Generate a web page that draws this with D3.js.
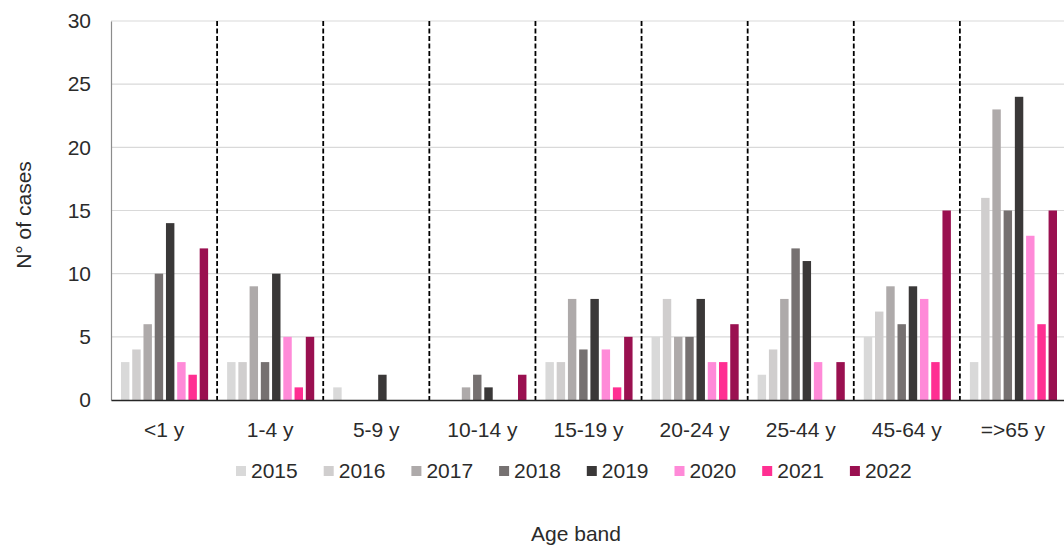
<!DOCTYPE html>
<html>
<head>
<meta charset="utf-8">
<script src="https://cdn.jsdelivr.net/npm/d3@7"></script>
<style>
  body { margin: 0; background: #fff; }
  svg { display: block; font-family: "Liberation Sans", Arial, sans-serif; }
</style>
</head>
<body>
<svg id="chart" width="1064" height="552"></svg>
<script>
const categories = ["<1 y", "1-4 y", "5-9 y", "10-14 y", "15-19 y", "20-24 y", "25-44 y", "45-64 y", "=>65 y"];
const years = ["2015", "2016", "2017", "2018", "2019", "2020", "2021", "2022"];
const s2015 = [3, 3, 1, 0, 3, 5, 2, 5, 3];
const s2016 = [4, 3, 0, 0, 3, 8, 4, 7, 16];
const s2017 = [6, 9, 0, 1, 8, 5, 8, 9, 23];
const s2018 = [10, 3, 0, 2, 4, 5, 12, 6, 15];
const s2019 = [14, 10, 2, 1, 8, 8, 11, 9, 24];
const s2020 = [3, 5, 0, 0, 4, 3, 3, 8, 13];
const s2021 = [2, 1, 0, 0, 1, 3, 0, 3, 6];
const s2022 = [12, 5, 0, 2, 5, 6, 3, 15, 15];
const yTicks = [0, 5, 10, 15, 20, 25, 30];
const colors = ["#d9d9d9", "#d0cece", "#aeaaaa", "#767171", "#3a3838", "#ff8ad8", "#ff2f92", "#9a1050"];

const seriesList = [s2015, s2016, s2017, s2018, s2019, s2020, s2021, s2022];

const svg = d3.select("#chart");
const mLeft = 111, mRight = 1066, mTop = 21, mBottom = 400;
const FS = 21, TXT = "#2b2b2b";

const x0 = d3.scaleBand().domain(categories).range([mLeft, mRight]).padding(0);
const gw = x0.bandwidth();
const x1 = d3.scaleBand().domain(years).range([10, gw - 9]).paddingInner(0.25).paddingOuter(0);
const y = d3.scaleLinear().domain([0, 30]).range([mBottom, mTop]);
const color = d3.scaleOrdinal().domain(years).range(colors);

// gridlines
svg.append("g").selectAll("line").data(yTicks.filter(d => d > 0)).join("line")
  .attr("x1", mLeft).attr("x2", mRight)
  .attr("y1", d => y(d)).attr("y2", d => y(d))
  .attr("stroke", "#d9d9d9").attr("stroke-width", 1.2);

// y axis
const yAxis = d3.axisLeft(y).tickValues(yTicks).tickSize(0).tickPadding(20);
const gy = svg.append("g").attr("transform", `translate(${mLeft},0)`).call(yAxis);
gy.select(".domain").attr("stroke", "#8c8c8c").attr("stroke-width", 1.2);
gy.selectAll("text").attr("font-size", FS).attr("fill", TXT).attr("font-family", "Liberation Sans, Arial, sans-serif");

// dashed separators
svg.append("g").selectAll("line").data(categories.slice(1)).join("line")
  .attr("x1", d => x0(d)).attr("x2", d => x0(d))
  .attr("y1", mTop).attr("y2", mBottom)
  .attr("stroke", "#000").attr("stroke-width", 1.8).attr("stroke-dasharray", "5,2.5");

// bars
const data = categories.map((c, i) => ({ c, vals: years.map((yr, j) => ({ yr, v: seriesList[j][i] })) }));
const groups = svg.append("g").selectAll("g").data(data).join("g")
  .attr("transform", d => `translate(${x0(d.c)},0)`);
groups.selectAll("rect").data(d => d.vals.filter(v => v.v > 0)).join("rect")
  .attr("x", d => x1(d.yr)).attr("width", x1.bandwidth())
  .attr("y", d => y(d.v)).attr("height", d => y(0) - y(d.v))
  .attr("fill", d => color(d.yr));

// x axis
const xAxis = d3.axisBottom(x0).tickSize(0).tickPadding(22);
const gx = svg.append("g").attr("transform", `translate(0,${mBottom})`).call(xAxis);
gx.select(".domain").attr("stroke", "#262626").attr("stroke-width", 1.5);
gx.selectAll("text").attr("font-size", FS).attr("fill", TXT).attr("font-family", "Liberation Sans, Arial, sans-serif");

// legend
const legend = svg.append("g").selectAll("g").data(years).join("g")
  .attr("transform", (d, i) => `translate(${251 + i * 87.7},0)`);
legend.append("rect").attr("x", -15).attr("y", 466).attr("width", 10).attr("height", 10).attr("fill", d => color(d));
legend.append("text").attr("x", 0).attr("y", 478).attr("font-size", FS).attr("fill", TXT).text(d => d);

// axis titles
svg.append("text").attr("x", 576).attr("y", 541).attr("text-anchor", "middle")
  .attr("font-size", FS).attr("fill", TXT).text("Age band");
svg.append("text").attr("transform", "translate(31,215) rotate(-90)").attr("text-anchor", "middle")
  .attr("font-size", FS).attr("fill", TXT).text("N° of cases");
</script>
</body>
</html>
